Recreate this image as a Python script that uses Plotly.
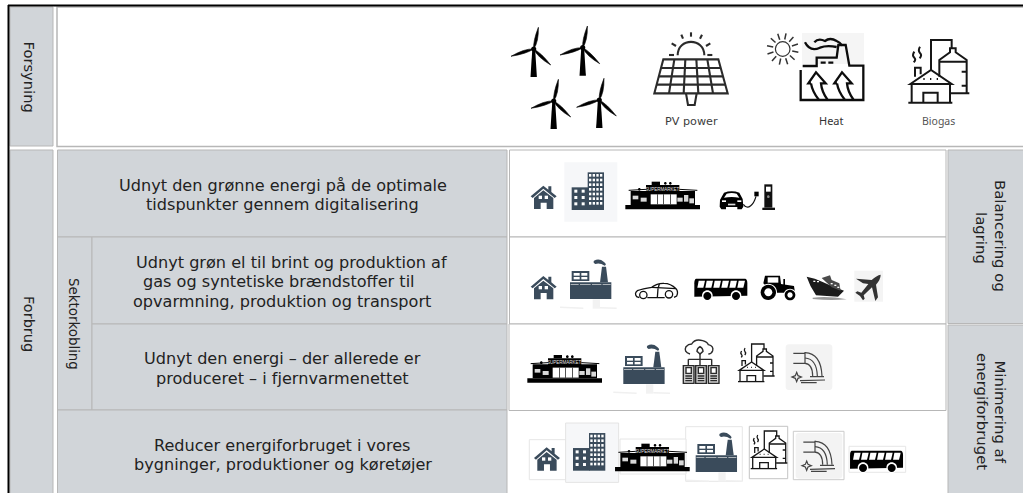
import re
import math
import plotly.graph_objects as go

# ---- content -------------------------------------------------------------
side_labels = ["Forsyning", "Forbrug", "Sektorkobling"]
row_lines = [
    "Udnyt den grønne energi på de optimale",
    "tidspunkter gennem digitalisering",
    "Udnyt grøn el til brint og produktion af",
    "gas og syntetiske brændstoffer til",
    "opvarmning, produktion og transport",
    "Udnyt den energi – der allerede er",
    "produceret – i fjernvarmenettet",
    "Reducer energiforbruget i vores",
    "bygninger, produktioner og køretøjer",
]
right_lines = ["Balancering og", "lagring", "Minimering af", "energiforbruget"]
icon_labels = ["PV power", "Heat", "Biogas"]
sign_text = "SUPERMARKET"

GREY = "#d1d5d9"
EDGE = "#b7b7b7"
SLATE = "#3a4b5b"
INK = "#222222"

shapes = []
annotations = []


def xf(path, ox, oy, s):
    out, i = [], 0
    for t in re.findall(r"[A-Za-z]|-?\d+\.?\d*", path):
        if t.isalpha():
            out.append(t)
        else:
            v = float(t)
            out.append(f"{(ox if i % 2 == 0 else oy) + v * s:.2f}")
            i += 1
    return " ".join(out)


def pen(path, ox=0, oy=0, s=1 / 3, fill=None, line=None, w=0):
    d = dict(type="path", xref="x", yref="y", path=xf(path, ox, oy, s), line=dict(width=w))
    if line:
        d["line"]["color"] = line
    else:
        d["line"]["width"] = 0
    if fill:
        d["fillcolor"] = fill
    shapes.append(d)


def box(x0, y0, x1, y1, ox=0, oy=0, s=1.0, fill=None, line=None, w=0):
    pen(f"M{x0} {y0} L{x1} {y0} L{x1} {y1} L{x0} {y1} Z", ox, oy, s, fill, line, w)


def circ(cx, cy, r):
    k = r * 0.552
    return (f"M{cx-r} {cy} C{cx-r} {cy-k} {cx-k} {cy-r} {cx} {cy-r} "
            f"C{cx+k} {cy-r} {cx+r} {cy-k} {cx+r} {cy} "
            f"C{cx+r} {cy+k} {cx+k} {cy+r} {cx} {cy+r} "
            f"C{cx-k} {cy+r} {cx-r} {cy+k} {cx-r} {cy} Z")


def note(x, y, text, size, color=INK, angle=0, family="DejaVu Sans"):
    annotations.append(dict(x=x, y=y, xref="x", yref="y", text=text, showarrow=False,
                            textangle=angle, font=dict(family=family, size=size, color=color),
                            align="center"))


# ---- icons ---------------------------------------------------------------
def turbine(hx, hy):
    for tx, ty in [(4.7, -21.7), (-22.7, 7.3), (17, 16)]:
        L = math.hypot(tx, ty)
        nx, ny = -ty / L, tx / L
        pen(f"M{hx} {hy} Q{hx+tx*.35+nx*3.4} {hy+ty*.35+ny*3.4} {hx+tx} {hy+ty} "
            f"Q{hx+tx*.35-nx*2.4} {hy+ty*.35-ny*2.4} {hx} {hy} Z", s=1, fill="#000000", line="#000000", w=0.6)
    pen(f"M{hx-1.4} {hy} L{hx+1.4} {hy} L{hx+3.2} {hy+28} L{hx-3.2} {hy+28} Z", s=1, fill="#000000")
    pen(circ(hx, hy, 2.6), s=1, fill="#000000")


def pv():
    c = "#2b2b2b"
    top = (490, 655)
    bot = (463, 683)
    rows = [178, 204, 229, 254, 280]
    o = dict(ox=500, oy=0, s=1 / 3, line=c, w=2.1)
    pen(f"M{top[0]} 178 L{top[1]} 178 L{bot[1]} 280 L{bot[0]} 280 Z", fill="#ffffff", **o)
    for y in rows[1:-1]:
        t = (y - 178) / 102
        pen(f"M{top[0]+(bot[0]-top[0])*t} {y} L{top[1]+(bot[1]-top[1])*t} {y}", **o)
    for i in range(1, 5):
        a = top[0] + (top[1] - top[0]) * i / 5
        b = bot[0] + (bot[1] - bot[0]) * i / 5
        pen(f"M{a} 178 L{b} 280", **o)
    pen("M558 280 L564 315 L584 315 L590 280", **o)
    pen("M533 166 C533 112 613 112 613 166", **o)
    for seg in ["M507 165 L522 165", "M622 165 L637 165", "M515 130 L528 138", "M544 104 L549 116",
                "M573 97 L573 110", "M606 104 L600 116", "M631 130 L618 138"]:
        pen(seg, **o)


def sun():
    cx, cy = 782.7, 49
    pen(circ(cx, cy, 7.3), s=1, line="#333333", w=1.2)
    for i in range(12):
        a = math.radians(i * 30 + 12)
        pen(f"M{cx+9.7*math.cos(a)} {cy+9.7*math.sin(a)} L{cx+16*math.cos(a)} {cy+16*math.sin(a)}",
            s=1, line="#333333", w=1.5)


def heat():
    box(802, 33, 864, 64, fill="#f5f5f5")
    o = dict(ox=755, oy=15, s=1 / 3, line="#0c0c0c", w=2.3)
    pen("M143 153 L185 153 L185 128 L245 128 L250 90 L272 90 L283 152 L325 152 L325 255 L137 255 L137 165", **o)
    pen("M197 143 L212 143 M220 143 L235 143", **o)
    pen("M150 82 Q165 112 195 98 Q215 90 245 96", **o)
    pen("M178 82 Q190 68 210 78 Q225 66 245 78 Q258 84 262 92", **o)
    for dx in (0, 78):
        pen(f"M{168+dx} 205 L{160+dx} 205 L{183+dx} 172 L{212+dx} 205 L{198+dx} 205 "
            f"Q{200+dx} 230 {218+dx} 255", **o)
        pen(f"M{168+dx} 205 Q{172+dx} 230 {192+dx} 255", **o)


def biogas(ox=755, oy=15, s=1 / 3, w=2.0):
    o = dict(ox=ox, oy=oy, s=s, line="#161616", w=w)
    pen("M460 263 L592 263", **o)
    pen("M470 207 L470 263 M585 207 L585 263", **o)
    pen("M466 207 L528 165 L590 207 Z", fill="#ffffff", **o)
    pen("M505 263 L505 233 L548 233 L548 263", **o)
    for x in (507, 527, 547):
        pen(f"M{x-2} 192 L{x+2} 192", **o)
    pen("M480 185 L480 158 L497 158 L497 178", **o)
    pen("M478 110 Q470 122 478 128 Q484 134 476 142 M495 95 Q488 106 495 114 Q502 120 494 130", **o)
    pen("M553 185 L553 135 L585 112 L585 100 L602 100 L602 112 L635 135 L635 235 M553 140 L635 140", **o)
    pen("M587 235 L643 235 M620 170 L635 170 M620 212 L635 212", **o)
    pen("M528 165 L528 75 L590 75 L590 100", **o)


def house(ox, oy):
    o = dict(ox=ox, oy=oy, s=1 / 3, fill=SLATE)
    pen("M32 124 L70 92 L85 104 L85 94 L94 94 L94 111 L110 124 L104 129 L70 101 L38 129 Z", **o)
    pen("M42 129 L70 106 L100 129 L100 162 L80 162 L80 143 L62 143 L62 162 L42 162 Z", **o)
    box(56, 122, 66, 132, ox, oy, 1 / 3, fill="#ffffff")
    box(74, 122, 84, 132, ox, oy, 1 / 3, fill="#ffffff")


def building(ox, oy, border=False):
    box(133, 22, 292, 200, ox, oy, 1 / 3, fill="#f6f7f9", line="#e4e4e4" if border else None, w=1)
    box(155, 97, 205, 165, ox, oy, 1 / 3, fill=SLATE)
    box(203, 52, 252, 165, ox, oy, 1 / 3, fill=SLATE)
    for r in range(3):
        for c in range(2):
            x, y = 163 + c * 22, 104 + r * 19
            box(x, y, x + 9, y + 9, ox, oy, 1 / 3, fill="#ffffff")
    for r in range(7):
        for c in range(4):
            x, y = 207 + c * 11, 57 + r * 14
            box(x, y, x + 7, y + 8, ox, oy, 1 / 3, fill="#ffffff")


def supermarket(ox, oy):
    o = dict(ox=ox, oy=oy, s=1 / 3)
    box(316, 150, 540, 163, fill="#000000", **o)
    pen("M332 150 L332 108 L378 108 L378 90 L478 90 L478 108 L525 108 L525 150 Z", fill="#000000", **o)
    pen("M326 106 L378 103 M478 103 L532 106", line="#000000", w=1, **o)
    box(395, 80, 420, 90, fill="#000000", **o)
    pen(circ(436, 85, 4) + " " + circ(451, 85, 4) + " " + circ(358, 103, 4), fill="#000000", **o)
    box(392, 118, 470, 148, fill="#ffffff", **o)
    for x in (412, 431, 451):
        box(x - 1, 118, x + 1, 148, fill="#000000", **o)
    for b in [(338, 122, 355, 133), (362, 128, 380, 140), (472, 128, 488, 140),
              (492, 120, 505, 140), (508, 130, 522, 145)]:
        box(*b, fill="#d8d8d8", **o)
    note(ox + 428 / 3, oy + 102 / 3, sign_text, 4.5, "#e6e6e6", family="Liberation Sans")


def factory(ox, oy):
    o = dict(ox=ox, oy=oy, s=1 / 3)
    pen("M120 172 L190 175 M240 173 L290 175", line="#f0f0f0", w=1.5, **o)
    box(218, 148, 240, 176, fill="#f2f2f2", **o)
    box(150, 97, 274, 147, fill=SLATE, **o)
    box(155, 63, 208, 93, fill=SLATE, **o)
    for b in [(161, 69, 179, 77), (184, 69, 202, 77), (161, 81, 179, 88), (184, 81, 202, 88)]:
        box(*b, fill="#ffffff", **o)
    pen("M240 97 L246 50 L258 50 L264 97 Z", fill=SLATE, **o)
    pen("M222 32 Q238 24 252 36 Q262 44 254 47 Q240 38 226 42 Q218 38 222 32 Z", fill=SLATE, **o)
    for a, b in [(152, 176), (180, 212), (216, 244), (248, 272)]:
        box(a, 102, b, 104, fill="#e8e8e8", **o)


def car(ox=520, oy=250):
    o = dict(ox=ox, oy=oy, s=1 / 3, line="#111111", w=1.3)
    pen("M358 143 L350 140 Q342 130 352 122 Q368 116 395 112 Q412 99 432 100 Q452 100 468 116 "
        "Q476 126 470 138 L462 142 M434 143 L382 143", **o)
    pen("M396 112 L468 116 M418 102 L414 116 L412 143", **o)
    pen(circ(370, 135, 11), fill="#ffffff", **o)
    pen(circ(447, 133, 11), fill="#ffffff", **o)


def car_charger(ox=520, oy=155):
    o = dict(ox=ox, oy=oy, s=1 / 3)
    pen("M600 135 Q605 125 612 113 Q635 105 658 113 L668 132 L670 155 L665 163 L652 163 L652 156 "
        "L618 156 L618 163 L604 163 L599 155 Z", fill="#000000", **o)
    pen("M612 128 L620 116 Q635 112 650 116 L658 128 Q635 124 612 128 Z", fill="#ffffff", **o)
    box(606, 136, 618, 141, fill="#ffffff", **o)
    box(652, 136, 664, 141, fill="#ffffff", **o)
    box(624, 146, 646, 151, fill="#dddddd", **o)
    pen("M670 148 Q680 162 692 152 Q702 145 708 124", line="#111111", w=1.2, **o)
    box(703, 110, 716, 124, fill="#000000", **o)
    box(733, 88, 757, 158, fill="#111111", **o)
    box(738, 95, 752, 110, fill="#ffffff", **o)
    pen(circ(745, 125, 4), fill="#888888", **o)
    box(727, 158, 765, 165, fill="#111111", **o)


def bus(ox=700, oy=250):
    o = dict(ox=ox, oy=oy, s=1 / 3)
    pen("M-12 86 L136 86 Q142 88 142 100 L142 137 L-17 140 L-17 100 Q-17 88 -12 86 Z", fill="#000000", **o)
    for i in range(6):
        x = -8 + i * 24
        pen(f"M{x+4} 92 L{x+23} 92 L{x+18} 113 L{x} 113 Z", fill="#ffffff", **o)
    for cx in (22, 108):
        pen(circ(cx, 137, 16), fill="#ffffff", **o)
        pen(circ(cx, 138, 12), fill="#000000", **o)


def tractor(ox=700, oy=250):
    o = dict(ox=ox, oy=oy, s=1 / 3)
    pen("M195 77 L240 77 L243 102 L282 108 L285 128 L215 128 L190 100 Z", fill="#000000", **o)
    box(203, 82, 235, 98, fill="#ffffff", **o)
    box(250, 87, 255, 106, fill="#000000", **o)
    for cx, cy, r, h in [(205, 127, 23, 12), (270, 135, 16, 8)]:
        pen(circ(cx, cy, r + 3), fill="#ffffff", **o)
        pen(circ(cx, cy, r), fill="#000000", **o)
        pen(circ(cx, cy, h), fill="#ffffff", **o)


def ship(ox=700, oy=250):
    o = dict(ox=ox, oy=oy, s=1 / 3)
    pen("M338 143 Q390 138 440 148 Q390 152 338 147 Z", fill="#999999", **o)
    pen("M320 80 Q345 84 368 96 L395 108 L432 122 L414 140 L348 136 Q330 110 320 80 Z", fill="#1b1b1b", **o)
    pen("M365 84 L390 76 L395 90 L418 100 L422 122 L395 112 Z", fill="#4b4b4b", **o)
    for x, y in [(340, 92), (351, 93), (392, 99), (403, 104), (412, 110)]:
        box(x, y, x + 6, y + 4, fill="#ffffff", **o)


def plane(ox=700, oy=250):
    o = dict(ox=ox, oy=oy, s=1 / 3)
    box(463, 62, 549, 155, fill="#f4f4f4", **o)
    pen("M542 74 Q530 76 515 90 L468 86 L489 100 L505 102 L484 128 L472 124 L466 128 L480 138 "
        "L489 151 L494 146 L491 136 L516 112 L526 153 L534 142 L528 104 Q542 88 542 74 Z",
        fill="#333333", **o)


def datacenter(ox=520, oy=330):
    o = dict(ox=ox, oy=oy, s=1 / 3, line="#2b2b2b", w=1.4)
    pen("M510 72 Q490 66 498 50 Q505 42 515 42 Q525 25 548 32 Q562 36 565 44 Q582 48 578 62 Q574 72 565 72", **o)
    pen("M540 72 L531 64 Q531 55 540 50 Q549 55 549 64 Z", **o)
    pen("M540 72 L540 105 M505 88 L575 88 M505 88 L505 105 M575 88 L575 105", **o)
    for x in (490, 527, 565):
        box(x, 107, x + 32, 160, fill="#cfcfcf", **o)
        box(x + 8, 113, x + 24, 130, fill="#ffffff", **o)
        pen(f"M{x+6} 138 L{x+26} 138 M{x+6} 145 L{x+26} 145 M{x+6} 152 L{x+26} 152", **o)


def drain(ox=520, oy=330):
    o = dict(ox=ox, oy=oy, s=1 / 3, line="#444444", w=1.2)
    pen("M807 43 L927 43 Q937 43 937 53 L937 170 Q937 180 927 180 L807 180 Q797 180 797 170 "
        "L797 53 Q797 43 807 43 Z", ox=ox, oy=oy, s=1 / 3, fill="#f3f3f3")
    pen("M820 70 L855 70 M820 100 L855 100 M855 66 L855 102", **o)
    pen("M855 68 Q903 70 906 138 M855 84 Q890 86 892 138 M855 100 Q878 102 878 138", **o)
    pen("M870 140 L912 140 M840 152 L915 150 M843 158 L890 158", **o)
    pen("M830 127 L834 137 L844 141 L834 145 L830 155 L826 145 L816 141 L826 137 Z", **o)


# ---- grid ----------------------------------------------------------------
box(0, 0, 1023, 493, fill="#ffffff")
box(10, 7, 53, 146, fill=GREY, line=EDGE, w=1)                 # Forsyning
box(57, 7, 1024, 146.5, fill="#ffffff", line=EDGE, w=1.5)      # supply panel
box(10, 150, 53, 495, fill=GREY, line=EDGE, w=1)               # Forbrug
box(57.5, 150, 507, 237, fill=GREY, line=EDGE, w=1)
box(57.5, 237, 92, 410, fill=GREY, line=EDGE, w=1)
box(92, 237, 507, 324, fill=GREY, line=EDGE, w=1)
box(92, 324, 507, 410, fill=GREY, line=EDGE, w=1)
box(57.5, 410, 507, 495, fill=GREY, line=EDGE, w=1)
box(509.5, 150, 946, 237, fill="#ffffff", line=EDGE, w=1)
box(509.5, 237, 946, 324, fill="#ffffff", line=EDGE, w=1)
box(509, 324, 946, 410.5, fill="#ffffff", line=EDGE, w=1)
box(948, 150, 1024, 323.5, fill=GREY, line=EDGE, w=1)
box(948, 325, 1024, 495, fill=GREY, line=EDGE, w=1)
pen("M8 5.5 L1023 5.5", s=1, line="#000000", w=2)
pen("M8.5 5 L8.5 493", s=1, line="#000000", w=2)

# ---- supply row ----------------------------------------------------------
for hub in [(533.7, 49), (582.7, 47.7), (553.7, 101), (599.3, 100)]:
    turbine(*hub)
pv()
sun()
heat()
biogas()
note(691.7, 121.5, icon_labels[0], 11.2, "#3c3c3c")
note(831.7, 120, icon_labels[1], 11, "#333333", family="Noto Sans")
note(938, 120.5, icon_labels[2], 10.5, "#555555", family="Noto Sans")

# ---- row 1 ---------------------------------------------------------------
house(520, 155)
building(520, 155)
supermarket(520, 155)
car_charger()

# ---- row 2 ---------------------------------------------------------------
house(520, 245.3)
factory(520, 250)
car()
bus()
tractor()
ship()
plane()

# ---- row 3 ---------------------------------------------------------------
supermarket(422, 328.3)
factory(573.3, 335)
datacenter()
biogas(646, 329, 0.2, 1.3)
drain()

# ---- row 4 ---------------------------------------------------------------
BORDER = dict(fill="#ffffff", line="#e6e6e6", w=1)
box(529.3, 439.7, 566, 479.7, **BORDER)
house(523.3, 416.7)
box(685.7, 426.7, 742.3, 481.3, **BORDER)
building(521.3, 415.7, border=True)
box(620, 439, 686, 474, fill="#ffffff", line="#e6e6e6", w=1)
supermarket(509.7, 417)
factory(645.7, 423)
box(749.3, 426.3, 787.7, 478.7, fill="#ffffff", line="#c4c4c4", w=1)
biogas(658.7, 416, 0.2, 1.3)
box(793.3, 431.3, 844, 479.7, fill="#ffffff", line="#cccccc", w=1)
drain(530, 418.7)
box(849, 446.3, 905.7, 472.3, fill="#ffffff", line="#e6e6e6", w=1)
bus(855.7, 422)

# ---- text ----------------------------------------------------------------
note(29.5, 77, side_labels[0], 14.7, angle=90)
note(29.5, 323.5, side_labels[1], 14.5, angle=90)
note(73.5, 323.5, side_labels[2], 13.4, angle=90)
line_pos = [(282.5, 185.5), (282.5, 204.5), (291, 262), (278.5, 281.5), (282, 301),
            (282, 358.5), (282, 378), (282.5, 445), (282.5, 464.5)]
for (cx, cy), t in zip(line_pos, row_lines):
    note(cx, cy, t, 16.1)
right_pos = [(1000, 236), (981.5, 237.5), (1000, 411.5), (982, 411)]
for (cx, cy), t in zip(right_pos, right_lines):
    note(cx, cy, t, 14.9, angle=90)

fig = go.Figure()
fig.update_layout(
    width=1023, height=493, margin=dict(l=0, r=0, t=0, b=0), autosize=False,
    paper_bgcolor="#ffffff", plot_bgcolor="#ffffff", showlegend=False,
    xaxis=dict(range=[0, 1023], visible=False, fixedrange=True),
    yaxis=dict(range=[493, 0], visible=False, fixedrange=True),
    shapes=shapes, annotations=annotations,
)
fig.write_html("out.html", config={"displayModeBar": False, "responsive": False},
               post_script="document.body.style.margin='0';document.body.style.overflow='hidden';")
